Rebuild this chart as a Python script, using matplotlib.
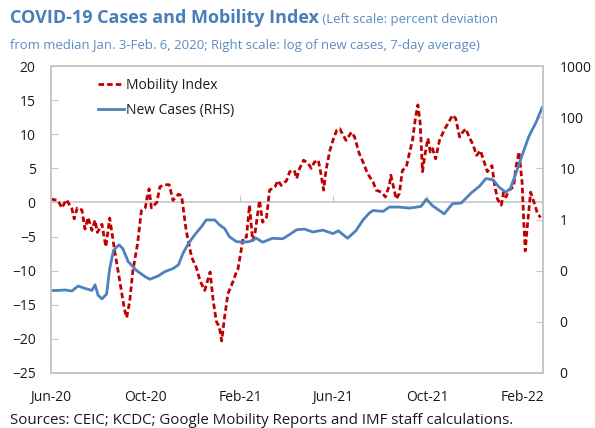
import numpy as np
import pandas as pd
import matplotlib
matplotlib.use("Agg")
import matplotlib.pyplot as plt
import matplotlib.dates as mdates
from matplotlib.ticker import FixedLocator, FuncFormatter, NullFormatter

plt.rcParams['font.family'] = ['Open Sans', 'DejaVu Sans']

# ---- data ----
start = pd.Timestamp('2020-06-01')

# mobility index, percent deviation from baseline (left axis)
mob_days = [0, 9, 14, 20, 27, 30, 34, 40, 44, 48, 53, 57, 60, 66, 71, 76, 83, 89, 95, 98,
            102, 106, 112, 117, 122, 127, 130, 137, 141, 147, 153, 158, 165, 169, 175, 182, 188, 193, 199, 206,
            210, 214, 218, 221, 224, 229, 236, 240, 242, 249, 253, 257, 261, 264, 270, 274, 279, 283, 290, 294,
            298, 305, 309, 315, 318, 322, 327, 333, 337, 341, 346, 349, 353, 356, 361, 365, 370, 374, 378, 382,
            389, 393, 399, 404, 410, 417, 421, 428, 433, 438, 440, 443, 447, 451, 455, 460, 464, 468, 472, 475,
            478, 481, 484, 488, 491, 494, 498, 503, 509, 515, 520, 524, 529, 533, 537, 542, 546, 551, 556, 561,
            565, 571, 574, 578, 583, 586, 589, 593, 599, 602, 606, 610, 612, 614, 617, 621, 626, 630, 634]
mobility = [0.5, 0.3, -0.8, 0.4, -0.9, -2.4, -0.8, -1.1, -3.9, -2.2, -4.1, -2.6, -4.4, -3.2, -6.5, -2.3, -7.5, -11.5, -15.6, -16.9,
            -14.4, -10.0, -6.1, -1.2, -0.8, 2.0, -0.8, 0.0, 2.3, 2.6, 2.6, 0.3, 1.2, 1.0, -4.1, -8.0, -9.5, -11.5, -12.9, -10.2,
            -14.4, -17.4, -18.3, -20.3, -17.4, -13.4, -11.5, -10.2, -9.8, -5.1, -5.1, -0.4, -5.6, -4.6, 0.3, -2.9, -2.2, 1.8, 2.3, 3.2,
            2.5, 3.2, 4.5, 4.7, 3.5, 5.0, 6.2, 5.7, 5.0, 5.9, 6.2, 4.5, 1.8, 4.7, 7.6, 9.1, 10.6, 10.8, 9.9, 9.1,
            10.3, 9.6, 7.2, 5.9, 4.2, 3.0, 1.8, 1.5, 0.8, 2.5, 4.0, 2.5, 0.5, 1.3, 4.7, 5.2, 7.2, 9.1, 12.5, 14.3,
            11.6, 4.5, 6.9, 9.4, 7.4, 7.9, 6.4, 9.1, 10.6, 11.8, 12.8, 12.3, 9.6, 10.3, 10.8, 9.4, 8.6, 6.9, 7.6, 5.9,
            4.5, 5.4, 2.8, 0.5, -0.4, 1.5, 0.8, 1.8, 2.3, 5.2, 7.4, 2.8, -2.6, -7.1, -3.1, 1.5, -0.2, -1.7, -2.2]

# new cases, thousands, 7-day average (right axis, log)
case_days = [0, 9, 18, 27, 35, 44, 53, 57, 61, 66, 72, 76, 81, 88, 93, 100, 111, 122, 128, 139,
             147, 158, 165, 171, 178, 186, 195, 201, 212, 218, 225, 231, 240, 249, 257, 266, 274, 287, 300, 309,
             318, 328, 339, 352, 365, 372, 384, 395, 404, 412, 417, 430, 438, 451, 464, 479, 486, 494, 509, 520,
             531, 544, 555, 563, 572, 580, 589, 595, 602, 611, 619, 628, 636]
cases = [0.041, 0.041, 0.042, 0.040, 0.050, 0.045, 0.041, 0.053, 0.033, 0.028, 0.035, 0.11, 0.25, 0.32, 0.27, 0.15, 0.10, 0.076, 0.068, 0.079,
         0.095, 0.11, 0.13, 0.22, 0.34, 0.50, 0.73, 0.98, 0.98, 0.79, 0.66, 0.46, 0.37, 0.36, 0.37, 0.43, 0.36, 0.43, 0.42, 0.51,
         0.63, 0.65, 0.57, 0.62, 0.53, 0.60, 0.43, 0.61, 0.98, 1.33, 1.5, 1.44, 1.75, 1.75, 1.67, 1.8, 2.5, 1.86, 1.29, 2.04,
         2.09, 3.3, 4.5, 6.3, 6.0, 4.3, 3.4, 4.1, 8.1, 20, 43, 79, 155]

mob_dates = start + pd.to_timedelta(mob_days, unit='D')
case_dates = start + pd.to_timedelta(case_days, unit='D')

title_bold = 'COVID-19 Cases and Mobility Index'
title_rest = ' (Left scale: percent deviation'
title_line2 = 'from median Jan. 3-Feb. 6, 2020; Right scale: log of new cases, 7-day average)'
source = 'Sources: CEIC; KCDC; Google Mobility Reports and IMF staff calculations.'

RED = '#c00000'
BLUE = '#4f81bd'
TITLE_C = '#4a7ebb'
SUB_C = '#5b8cc2'
GRID = '#c6c6c6'
TXT = '#1a1a1a'

fig = plt.figure(figsize=(5.95, 4.28), dpi=100)
ax = fig.add_axes([51/595, 1 - 373/428, 492/595, 307/428])
ax2 = ax.twinx()

l1, = ax.plot(mob_dates, mobility, color=RED, lw=2.0, ls=(0, (2.0, 1.1)), label='Mobility Index')
l2, = ax2.plot(case_dates, cases, color=BLUE, lw=2.0, label='New Cases (RHS)')

ax.set_ylim(-25, 20)
ax.set_yticks(np.arange(-25, 21, 5))
ax.set_xlim(pd.Timestamp('2020-06-01'), pd.Timestamp('2022-02-28'))
ax2.set_yscale('log')
ax2.set_ylim(0.001, 1000)
ax2.yaxis.set_major_locator(FixedLocator([0.001, 0.01, 0.1, 1, 10, 100, 1000]))
ax2.yaxis.set_minor_locator(FixedLocator([]))
ax2.yaxis.set_major_formatter(FuncFormatter(lambda v, p: '%.0f' % v))

ax.xaxis.set_major_locator(mdates.MonthLocator(bymonth=[2, 6, 10]))
ax.xaxis.set_major_formatter(mdates.DateFormatter('%b-%y'))

for a in (ax, ax2):
    for s in a.spines.values():
        s.set_color(GRID)
        s.set_linewidth(1.2)

ax.tick_params(axis='y', direction='in', length=5, color=GRID, pad=11, labelsize=10, labelcolor=TXT)
ax2.tick_params(axis='y', direction='in', length=5, color=GRID, pad=12, labelsize=10, labelcolor=TXT)
ax.tick_params(axis='x', length=0, pad=12, labelsize=10, labelcolor=TXT)

# zero line carrying the x ticks
sec = ax.secondary_xaxis(25 / 45)
for s in sec.spines.values():
    s.set_color(GRID)
    s.set_linewidth(1.2)
sec.xaxis.set_major_locator(mdates.MonthLocator(bymonth=[2, 6, 10]))
sec.xaxis.set_major_formatter(NullFormatter())
sec.tick_params(axis='x', which='both', direction='out', length=5, color=GRID,
                labelbottom=False, labeltop=False)

leg = ax2.legend(handles=[l1, l2], loc='upper left', bbox_to_anchor=(0.095, 0.962),
                 frameon=False, fontsize=10, handlelength=1.9, handletextpad=0.1,
                 labelspacing=0.75, borderpad=0, borderaxespad=0)
for t in leg.get_texts():
    t.set_color(TXT)

# title: bold part followed by normal part
tb = fig.text(10/595, 1 - 18/428, title_bold, fontsize=13, fontweight='bold', color=TITLE_C, va='center')
fig.canvas.draw()
bb = tb.get_window_extent()
fig.text(bb.x1 / fig.bbox.width, 1 - 19/428, title_rest, fontsize=9.45, color=SUB_C, va='center')
fig.text(10/595, 1 - 45/428, title_line2, fontsize=9.45, color=SUB_C, va='center')
fig.text(10/595, 1 - 420/428, source, fontsize=10.8, color=TXT, va='center')

fig.savefig('out.png', dpi=100)
